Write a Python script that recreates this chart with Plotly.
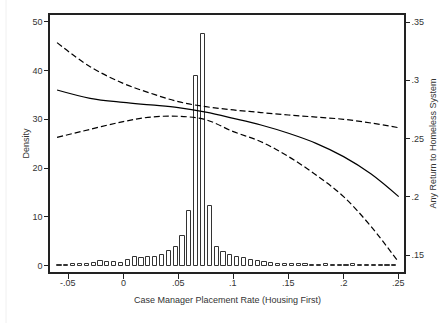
import plotly.graph_objects as go

# Histogram (density) of case manager placement rate
bin_width = 0.0062
first_center = -0.0578
density = [0.2, 0.2, 0.3, 0.4, 0.4, 0.6, 0.9, 0.8, 0.8, 0.6,
           1.2, 1.8, 1.6, 1.7, 1.8, 2.2, 3.0, 3.8, 6.1, 11.2,
           38.8, 47.5, 12.3, 3.9, 2.9, 2.1, 1.7, 1.5, 1.2, 1.0,
           0.8, 0.5, 0.4, 0.35, 0.3, 0.35, 0.25, 0.2, 0.2, 0.3,
           0.2, 0.2, 0.2, 0.3, 0.2, 0.2, 0.2, 0.2, 0.2, 0.2]
bin_centers = [first_center + i * bin_width for i in range(len(density))]

# Fitted return probability and confidence band
x_fit = [-0.06, -0.03, 0.0, 0.025, 0.05, 0.075, 0.1, 0.125, 0.15, 0.175, 0.2, 0.225, 0.25]
fit = [0.2917, 0.2846, 0.2811, 0.2789, 0.2766, 0.2727, 0.2674, 0.2617, 0.2546, 0.2460, 0.2346, 0.2197, 0.2003]
upper = [0.3323, 0.3117, 0.2974, 0.2889, 0.2817, 0.2774, 0.2746, 0.2724, 0.2703, 0.2685, 0.2666, 0.2634, 0.2594]
lower = [0.2511, 0.2580, 0.2646, 0.2685, 0.2692, 0.2662, 0.2560, 0.2474, 0.2346, 0.2189, 0.2003, 0.1746, 0.1440]

x_ticks = [-0.05, 0, 0.05, 0.1, 0.15, 0.2, 0.25]
x_labels = ["-.05", "0", ".05", ".1", ".15", ".2", ".25"]
y_ticks = [0, 10, 20, 30, 40, 50]
y2_ticks = [0.15, 0.2, 0.25, 0.3, 0.35]
y2_labels = [".15", ".2", ".25", ".3", ".35"]

FONT = "Liberation Sans, Arial, sans-serif"
TXT = "#333333"

# plot area in pixels
L, R, T, B = 50, 404, 15, 272
PW, PH = R - L, B - T

fig = go.Figure()
fig.add_trace(go.Bar(x=bin_centers, y=density, width=bin_width * 0.6,
                     marker=dict(color="white", line=dict(color="#333333", width=1)),
                     yaxis="y", showlegend=False))
fig.add_trace(go.Scatter(x=x_fit, y=fit, mode="lines", line=dict(color="black", width=1.2, shape="spline"),
                         yaxis="y2", showlegend=False))
for band in (upper, lower):
    fig.add_trace(go.Scatter(x=x_fit, y=band, mode="lines",
                             line=dict(color="black", width=1.2, dash="6px,3px", shape="spline"),
                             yaxis="y2", showlegend=False))

axis_common = dict(showgrid=False, zeroline=False, ticks="outside", ticklen=4, tickwidth=1,
                   tickcolor="#222", showline=True, linecolor="#222", linewidth=1.5,
                   tickfont=dict(family=FONT, size=9, color=TXT))

x_range = [-0.0664, 0.2548]

annotations = []
for v, lab in zip(x_ticks, x_labels):
    annotations.append(dict(text=lab, x=v, xref="x", y=(B - 283) / PH, yref="paper",
                            xanchor="center", yanchor="middle", showarrow=False,
                            font=dict(family=FONT, size=9, color=TXT)))
annotations += [
    dict(text="Case Manager Placement Rate (Housing First)", x=0.5, y=(B - 300) / PH,
         xref="paper", yref="paper", xanchor="center", yanchor="middle",
         showarrow=False, font=dict(family=FONT, size=9, color=TXT)),
    dict(text="Density", x=(25 - L) / PW, y=0.5, xref="paper", yref="paper", textangle=-90,
         xanchor="center", yanchor="middle", showarrow=False, font=dict(family=FONT, size=9, color=TXT)),
    dict(text="Any Return to Homeless System", x=(432 - L) / PW, y=0.5, xref="paper", yref="paper",
         textangle=-90, xanchor="center", yanchor="middle", showarrow=False,
         font=dict(family=FONT, size=9, color=TXT)),
]

fig.update_layout(
    width=446, height=323,
    margin=dict(l=L, r=446 - R, t=T, b=323 - B),
    paper_bgcolor="white", plot_bgcolor="white",
    bargap=0,
    xaxis=dict(range=x_range, tickvals=x_ticks, showticklabels=False, mirror=True, **axis_common),
    yaxis=dict(range=[-1.29, 51.37], tickvals=y_ticks, mirror=True, **axis_common),
    yaxis2=dict(range=[0.1357, 0.356], tickvals=y2_ticks, ticktext=y2_labels, overlaying="y", side="right",
                **axis_common),
    annotations=annotations,
    shapes=[dict(type="line", xref="paper", yref="paper", x0=(6 - L) / PW, x1=(6 - L) / PW,
                 y0=-(323 - B) / PH, y1=1 + T / PH, line=dict(color="#f0f0f0", width=1))],
)
fig.update_xaxes(ticklen=5)

fig.write_html("out.html")
